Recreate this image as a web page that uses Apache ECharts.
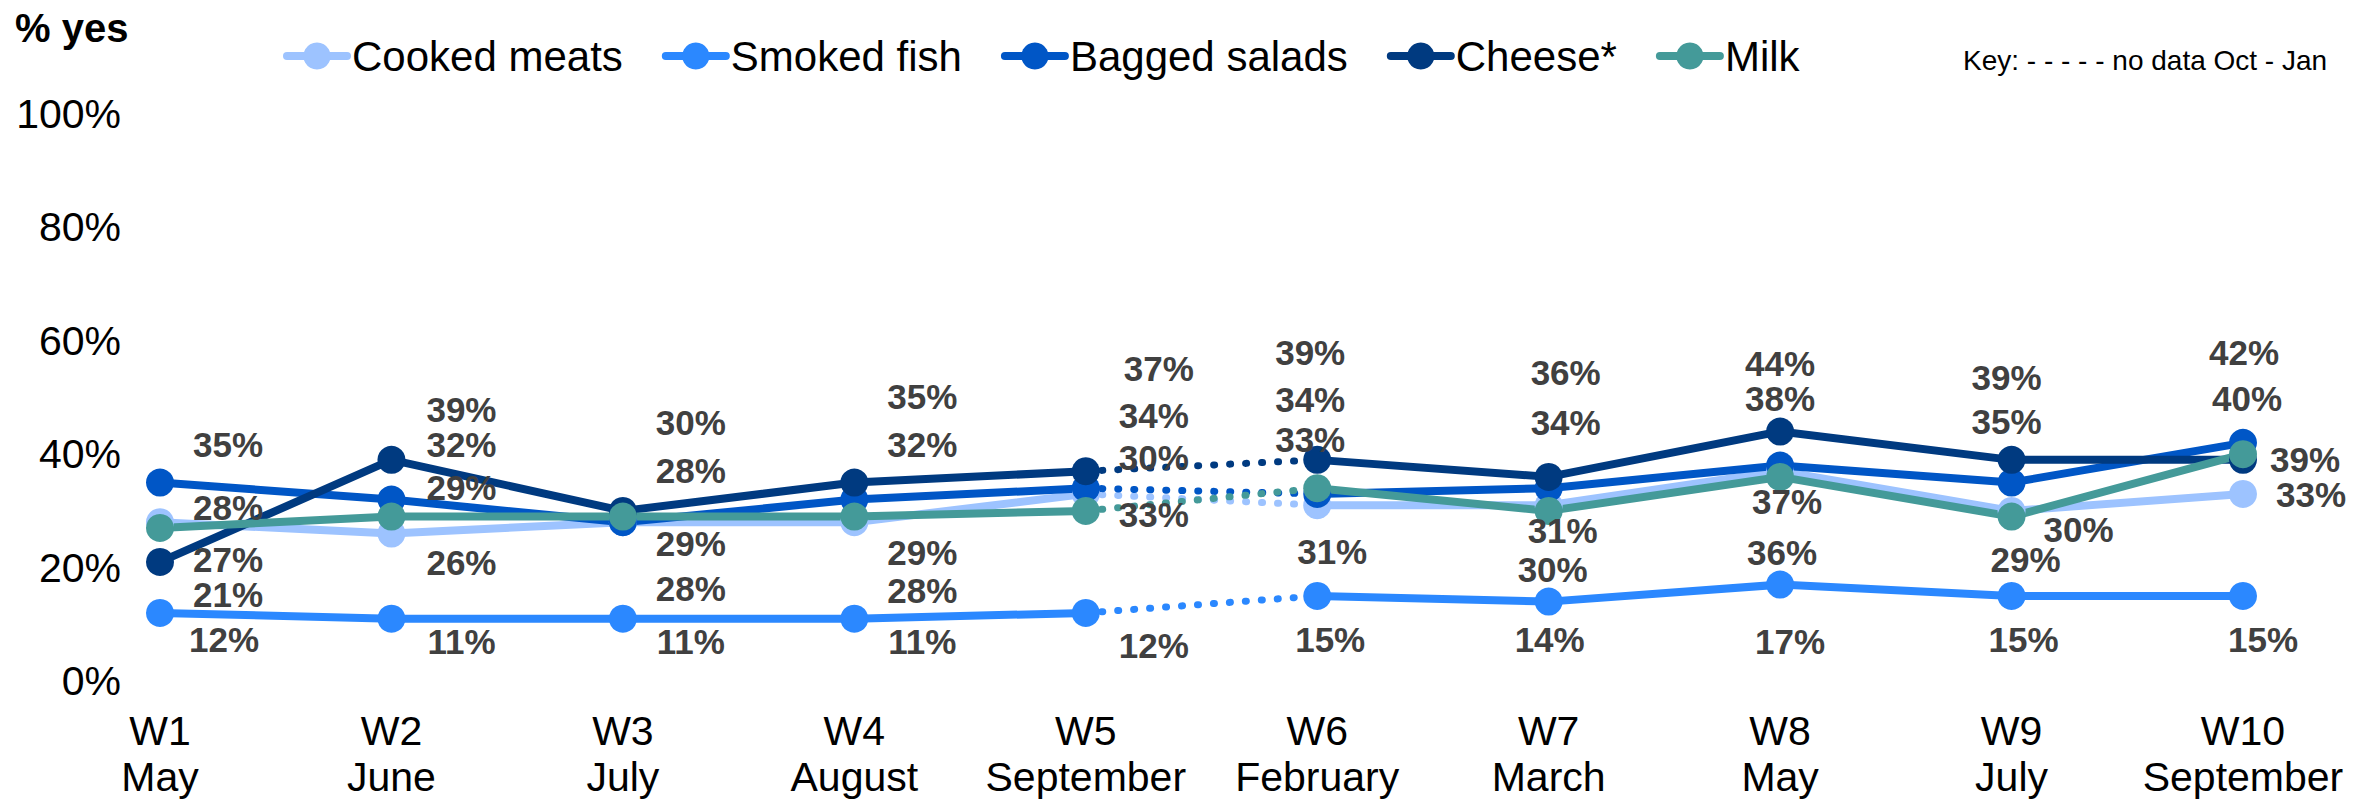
<!DOCTYPE html>
<html>
<head>
<meta charset="utf-8">
<script src="https://cdn.jsdelivr.net/npm/echarts@6/dist/echarts.min.js"></script>
<style>
    html, body { margin: 0; padding: 0; background: #fff; }
    #chart { width: 2377px; height: 801px; }
</style>
</head>
<body>
<div id="chart"></div>
<script>
var weeks = ['W1', 'W2', 'W3', 'W4', 'W5', 'W6', 'W7', 'W8', 'W9', 'W10'];
var months = ['May', 'June', 'July', 'August', 'September', 'February', 'March', 'May', 'July', 'September'];

var cookedMeats = [28, 26, 28, 28, 33, 31, 31, 37, 30, 33];
var smokedFish = [12, 11, 11, 11, 12, 15, 14, 17, 15, 15];
var baggedSalads = [35, 32, 28, 32, 34, 33, 34, 38, 35, 42];
var cheese = [21, 39, 30, 35, 37, 39, 36, 44, 39, 39];
var milk = [27, 29, 29, 29, 30, 34, 30, 36, 29, 40];

var yTicks = [0, 20, 40, 60, 80, 100];

// last week before the Oct - Jan gap, the dotted segment runs from here to the next week
var gapStart = 4;

// where each value label sits relative to its point, in px
var labelShift = {
    'Cooked meats': [[68, -15], [70, 29], [68, 66], [68, 68], [68, 21], [15, 46], [14, 25], [7, 30], [67, 19], [68, 1]],
    'Smoked fish': [[64, 27], [70, 23], [68, 23], [68, 23], [68, 33], [13, 44], [1, 38], [10, 57], [12, 44], [20, 44]],
    'Bagged salads': [[68, -38], [70, -55], [68, -52], [68, -55], [68, -73], [-7, -54], [17, -66], [0, -67], [-5, -61], [1, -90]],
    'Cheese*': [[68, 33], [70, -50], [68, -88], [68, -86], [73, -103], [-7, -107], [17, -104], [0, -68], [-5, -82], [62, 0]],
    'Milk': [[68, 32], [70, -29], [68, 27], [68, 36], [68, -53], [-7, -89], [4, 59], [2, 76], [14, 43], [4, -56]]
};

var products = [
    { name: 'Cooked meats', values: cookedMeats, color: '#9dc3ff' },
    { name: 'Smoked fish', values: smokedFish, color: '#2b88ff' },
    { name: 'Bagged salads', values: baggedSalads, color: '#0056c6' },
    { name: 'Cheese*', values: cheese, color: '#003a80' },
    { name: 'Milk', values: milk, color: '#449a99' }
];

var fontName = '"Liberation Sans", Arial, sans-serif';

function labelledData(product, from, to) {
    return product.values.map(function (v, i) {
        if (i < from || i > to) {
            return '-';
        }
        return {
            value: v,
            label: { offset: labelShift[product.name][i] }
        };
    });
}

function solidSeries(product, from, to) {
    return {
        name: product.name,
        type: 'line',
        data: labelledData(product, from, to),
        symbol: 'circle',
        symbolSize: 28,
        showAllSymbol: true,
        color: product.color,
        lineStyle: { width: 8, color: product.color, cap: 'round', join: 'round' },
        itemStyle: { color: product.color },
        label: {
            show: true,
            position: 'inside',
            formatter: '{c}%',
            fontFamily: fontName,
            fontWeight: 'bold',
            fontSize: 35,
            color: '#404040'
        },
        emphasis: { disabled: true },
        animation: false,
        z: 3
    };
}

function dottedSeries(product) {
    return {
        name: product.name,
        type: 'line',
        data: product.values.map(function (v, i) {
            return (i === gapStart || i === gapStart + 1) ? v : '-';
        }),
        showSymbol: false,
        color: product.color,
        lineStyle: { width: 7, color: product.color, type: [1, 15], cap: 'round' },
        emphasis: { disabled: true },
        silent: true,
        animation: false,
        z: 2
    };
}

var series = [];
products.forEach(function (p) {
    series.push(solidSeries(p, 0, gapStart));
    series.push(solidSeries(p, gapStart + 1, weeks.length - 1));
    series.push(dottedSeries(p));
});

var chart = echarts.init(document.getElementById('chart'), null, { renderer: 'svg' });

chart.setOption({
    backgroundColor: '#ffffff',
    animation: false,
    title: [
        {
            text: '% yes',
            left: 15,
            top: 8,
            padding: 0,
            textStyle: { fontFamily: fontName, fontSize: 40, fontWeight: 'bold', color: '#000' }
        },
        {
            text: 'Key: - - - - - no data Oct - Jan',
            left: 1963,
            top: 46,
            padding: 0,
            textStyle: { fontFamily: fontName, fontSize: 28, fontWeight: 'normal', color: '#000' }
        }
    ],
    legend: {
        data: products.map(function (p) { return p.name; }),
        left: 283,
        top: 35,
        padding: 0,
        itemWidth: 60,
        itemHeight: 34,
        itemGap: 39,
        selectedMode: false,
        lineStyle: { width: 8, cap: 'round' },
        textStyle: { fontFamily: fontName, fontSize: 42, color: '#000' }
    },
    grid: {
        left: 160,
        right: 134,
        top: 114,
        bottom: 120,
        containLabel: false,
        outerBoundsMode: 'none'
    },
    xAxis: {
        type: 'category',
        boundaryGap: false,
        data: weeks.map(function (w, i) { return w + '\n' + months[i]; }),
        axisLine: { show: false },
        axisTick: { show: false },
        splitLine: { show: false },
        axisLabel: {
            interval: 0,
            margin: 27,
            fontFamily: fontName,
            fontSize: 41,
            lineHeight: 46,
            color: '#000'
        }
    },
    yAxis: {
        type: 'value',
        min: yTicks[0],
        max: yTicks[yTicks.length - 1],
        interval: yTicks[1] - yTicks[0],
        axisLine: { show: false },
        axisTick: { show: false },
        splitLine: { show: false },
        axisLabel: {
            margin: 39,
            formatter: '{value}%',
            fontFamily: fontName,
            fontSize: 41,
            color: '#000'
        }
    },
    series: series
});
</script>
</body>
</html>
